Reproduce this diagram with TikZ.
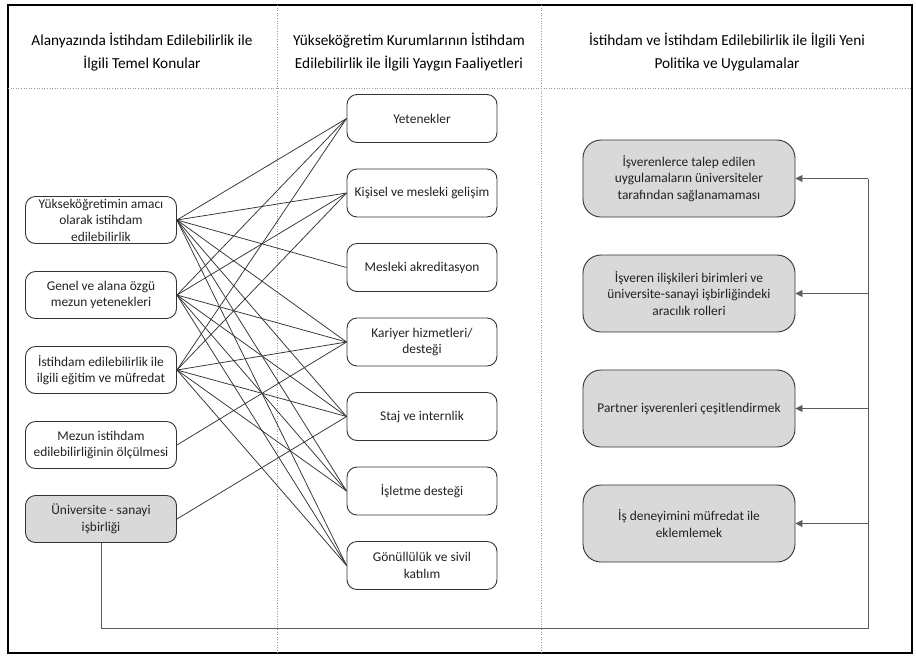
\documentclass[tikz,border=0pt]{standalone}
\usepackage{fontspec}
\setmainfont{Carlito}
\usetikzlibrary{arrows.meta}
\definecolor{edge}{HTML}{333333}
\definecolor{boxfill}{HTML}{D9D9D9}
\definecolor{txt}{HTML}{222222}
\tikzset{
  basebox/.style={draw=edge, line width=0.9pt, align=center, inner sep=0pt,
    text=txt, font=\fontsize{13.4}{16.5}\selectfont},
  leftbox/.style={basebox, rounded corners=10pt, minimum width=151pt, minimum height=47pt},
  midbox/.style={basebox, rounded corners=10pt, minimum width=150pt, minimum height=48pt},
  rightbox/.style={basebox, fill=boxfill, rounded corners=18pt, minimum width=212pt, minimum height=77pt},
  head/.style={align=center, text=black, font=\fontsize{15.3}{23}\selectfont},
  link/.style={draw=edge, line width=0.75pt},
  feed/.style={draw=edge!80, line width=0.8pt},
  feedarrow/.style={feed, -{Triangle[length=7pt,width=7pt]}},
  divider/.style={draw=gray!80, line width=0.6pt, dotted}
}
\begin{document}
\begin{tikzpicture}[x=1pt,y=-1pt]
\useasboundingbox (0,0) rectangle (916,657);
\fill[white] (0,0) rectangle (916,657);

% frame and column dividers
\draw[line width=2pt] (8,5) rectangle (912,653);
\draw[divider] (8,88) -- (912,88);
\draw[divider] (277,5) -- (277,653);
\draw[divider] (541,5) -- (541,653);

% column headings
\node[head] (h1) at (142,52) {Alanyazında İstihdam Edilebilirlik ile\\İlgili Temel Konular};
\node[head] (h2) at (409,52) {Yükseköğretim Kurumlarının İstihdam\\Edilebilirlik ile İlgili Yaygın Faaliyetleri};
\node[head] (h3) at (727,52) {İstihdam ve İstihdam Edilebilirlik ile İlgili Yeni\\Politika ve Uygulamalar};

% left column
\node[leftbox] (l1) at (101,220) {Yükseköğretimin amacı\\olarak istihdam\\edilebilirlik};
\node[leftbox] (l2) at (101,295) {Genel ve alana özgü\\mezun yetenekleri};
\node[leftbox] (l3) at (101,370) {İstihdam edilebilirlik ile\\ilgili eğitim ve müfredat};
\node[leftbox] (l4) at (101,445) {Mezun istihdam\\edilebilirliğinin ölçülmesi};
\node[leftbox, fill=boxfill] (l5) at (101,519) {Üniversite - sanayi\\işbirliği};

% middle column
\node[midbox] (m1) at (422,118.5) {Yetenekler};
\node[midbox] (m2) at (422,193) {Kişisel ve mesleki gelişim};
\node[midbox] (m3) at (422,267.5) {Mesleki akreditasyon};
\node[midbox] (m4) at (422,342) {Kariyer hizmetleri/\\desteği};
\node[midbox] (m5) at (422,416.5) {Staj ve internlik};
\node[midbox] (m6) at (422,491) {İşletme desteği};
\node[midbox] (m7) at (422,565.5) {Gönüllülük ve sivil\\katılım};

% right column
\node[rightbox] (r1) at (689,178.5) {İşverenlerce talep edilen\\uygulamaların üniversiteler\\tarafından sağlanamaması};
\node[rightbox] (r2) at (689,293.5) {İşveren ilişkileri birimleri ve\\üniversite-sanayi işbirliğindeki\\aracılık rolleri};
\node[rightbox] (r3) at (689,408.5) {Partner işverenleri çeşitlendirmek};
\node[rightbox] (r4) at (689,523.5) {İş deneyimini müfredat ile\\eklemlemek};

% links between topics and activities
\foreach \m in {m1,m2,m3,m4,m5,m6,m7} \draw[link] (l1.east) -- (\m.west);
\foreach \m in {m1,m2,m4,m5,m6,m7} \draw[link] (l2.east) -- (\m.west);
\foreach \m in {m1,m2,m4,m5,m6,m7} \draw[link] (l3.east) -- (\m.west);
\draw[link] (l4.east) -- (m4.west);
\draw[link] (l5.east) -- (m5.west);

% feedback line to the policy boxes
\coordinate (corner) at (868,628);
\draw[feed] (l5.south) |- (corner) -- (corner |- r1.east);
\foreach \r in {r1,r2,r3,r4} \draw[feedarrow] (corner |- \r.east) -- (\r.east);
\end{tikzpicture}
\end{document}
